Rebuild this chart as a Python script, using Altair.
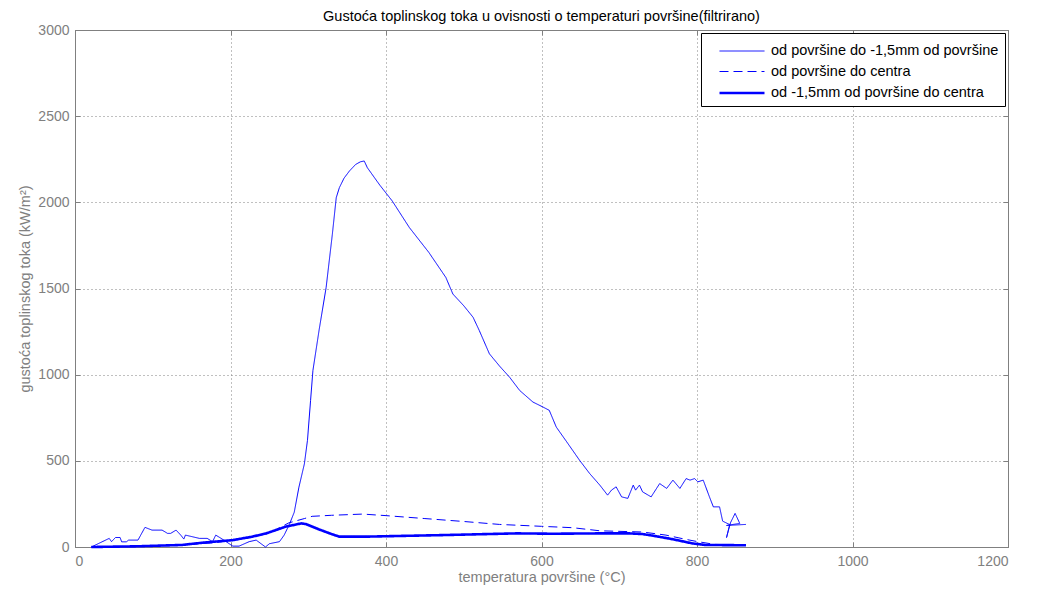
import altair as alt
import pandas as pd

names = [
    "od površine do -1,5mm od površine",
    "od površine do centra",
    "od -1,5mm od površine do centra",
]

# thin line: surface to -1.5 mm
t1 = [21, 44, 47, 52, 58, 60, 66, 69, 81, 90, 99, 112, 119, 123, 130, 136, 140, 142, 160, 170,
      177, 181, 188, 203, 211, 224, 233, 245, 250, 263, 269, 276, 282, 288, 295, 299,
      303, 306, 314, 323, 331, 336, 340, 346, 353, 361, 367, 372, 376, 392, 408, 430, 455,
      477, 486, 500, 512, 520, 533, 546, 559, 572, 589, 602, 610, 619, 634, 649, 662, 675,
      685, 690, 696, 703, 711, 718, 721, 726, 730, 741, 752, 761, 769, 778, 786, 791, 797,
      801, 808, 816, 821, 829, 833, 842, 838, 843, 849, 855, 838, 863]
q1 = [0, 50, 31, 55, 55, 30, 30, 40, 40, 114, 98, 98, 79, 79, 98, 69, 46, 69, 50, 50,
      31, 69, 50, 5, 5, 31, 40, 0, 19, 31, 69, 134, 202, 347, 482, 619,
      851, 1024, 1260, 1506, 1815, 2027, 2085, 2140, 2182, 2220, 2235, 2240, 2201, 2100, 2008,
      1854, 1710, 1564, 1468, 1400, 1333, 1256, 1121, 1050, 985, 908, 841, 812, 793, 696, 600,
      503, 426, 359, 301, 330, 349, 291, 282, 359, 330, 359, 320, 291, 368, 340, 388, 340, 397,
      388, 397, 378, 388, 291, 233, 233, 150, 130, 55, 140, 195, 137, 125, 131]

# dashed line: surface to centre
t2 = [21, 60, 100, 140, 180, 220, 250, 275, 295, 305, 330, 370, 400, 450, 500, 546, 600, 640,
      675, 730, 760, 786, 801, 823, 863]
q2 = [0, 2, 5, 12, 25, 50, 80, 140, 165, 178, 184, 191, 182, 165, 148, 131, 120, 112,
      94, 87, 69, 44, 31, 15, 12]

# thick line: -1.5 mm to centre
t3 = [21, 80, 138, 164, 203, 228, 246, 271, 291, 297, 314, 330, 340, 374, 417, 472, 568,
      615, 675, 713, 730, 743, 769, 794, 810, 863]
q3 = [0, 4, 12, 25, 40, 60, 79, 118, 137, 133, 102, 75, 60, 60, 64, 69, 79,
      77, 79, 79, 75, 66, 45, 21, 12, 10]

rows = []
for name, ts, qs in zip(names, [t1, t2, t3], [q1, q2, q3]):
    for i, (t, q) in enumerate(zip(ts, qs)):
        rows.append({"s": name, "t": t, "q": q, "i": i})
df = pd.DataFrame(rows)

FONT = "Liberation Sans"
GRAY = "#808080"

xscale = alt.Scale(domain=[0, 1200], nice=False)
yscale = alt.Scale(domain=[0, 3000], nice=False)

xaxis = alt.Axis(
    values=list(range(0, 1201, 200)), format="d", title="temperatura površine (°C)",
    grid=True, gridDash=[1, 3], gridColor=GRAY, gridOpacity=1,
    domain=False, tickColor=GRAY, tickSize=5, offset=-5,
    labelPadding=7, labelColor=GRAY, labelFont=FONT, labelFontSize=14,
    titleColor=GRAY, titleFont=FONT, titleFontSize=14.5, titleFontWeight="normal",
    titlePadding=2,
)
yaxis = alt.Axis(
    values=list(range(0, 3001, 500)), format="d", title="gustoća toplinskog toka (kW/m²)",
    grid=True, gridDash=[1, 3], gridColor=GRAY, gridOpacity=1,
    domain=False, tickColor=GRAY, tickSize=5, offset=-5,
    labelPadding=6, labelColor=GRAY, labelFont=FONT, labelFontSize=14,
    titleColor=GRAY, titleFont=FONT, titleFontSize=14.5, titleFontWeight="normal",
    titlePadding=5,
)

lines = alt.Chart(df).mark_line(interpolate="linear").encode(
    x=alt.X("t:Q", scale=xscale, axis=xaxis),
    y=alt.Y("q:Q", scale=yscale, axis=yaxis),
    order=alt.Order("i:Q"),
    color=alt.Color("s:N", scale=alt.Scale(domain=names, range=["#0000ff", "#0000ff", "#0000ff"]),
                    legend=alt.Legend(title=None)),
    strokeDash=alt.StrokeDash("s:N", scale=alt.Scale(domain=names, range=[[1, 0], [9, 5], [1, 0]]),
                              legend=alt.Legend(title=None)),
    strokeWidth=alt.StrokeWidth("s:N", scale=alt.Scale(type="ordinal", domain=names, range=[1, 1, 2.6]),
                                legend=alt.Legend(title=None)),
)

ticks = alt.Chart(df).mark_line(strokeOpacity=0).encode(
    x=alt.X("t:Q", scale=xscale, axis=alt.Axis(
        orient="top", values=list(range(0, 1201, 200)), labels=False, title=None,
        grid=False, domain=False, tickColor=GRAY, tickSize=5, offset=-5)),
    y=alt.Y("q:Q", scale=yscale, axis=alt.Axis(
        orient="right", values=list(range(0, 3001, 500)), labels=False, title=None,
        grid=False, domain=False, tickColor=GRAY, tickSize=5, offset=-5)),
    detail="s:N",
    order=alt.Order("i:Q"),
)

chart = alt.layer(lines, ticks).resolve_axis(x="independent", y="independent").properties(
    width=933, height=517,
    autosize=alt.AutoSizeParams(type="none"),
    padding={"left": 67, "top": 22, "right": 20, "bottom": 45},
    title=alt.Title("Gustoća toplinskog toka u ovisnosti o temperaturi površine(filtrirano)",
                    font=FONT, fontSize=14.5, fontWeight="normal", color="black", offset=-1.5),
).configure_view(
    stroke=GRAY, strokeWidth=1
).configure_legend(
    orient="top-right", offset=3, strokeColor="black", fillColor="white",
    padding=6, rowPadding=1.5, labelFont=FONT, labelFontSize=14.5, labelColor="black",
    symbolType="M-2,0H2", symbolSize=506, symbolOffset=22, labelOffset=16,
    cornerRadius=0, labelLimit=400,
)

chart.save("out.html", embed_options={"renderer": "svg", "actions": False})
